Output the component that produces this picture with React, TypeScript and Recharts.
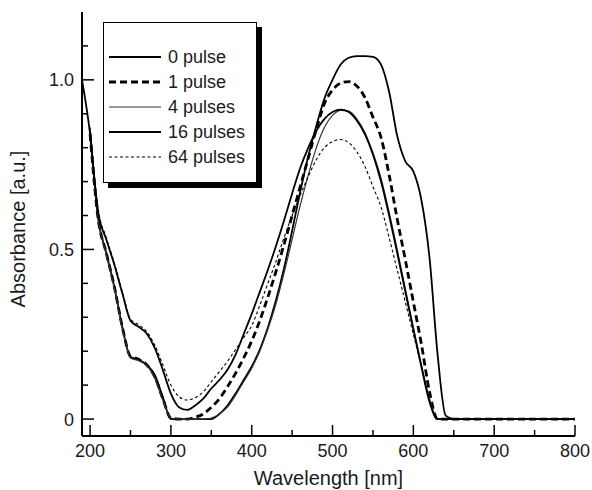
import React from 'react';
import { LineChart, Line, XAxis, YAxis, Legend } from 'recharts';

// wavelength grid [nm]
const wavelength = [
  190, 200, 210, 220, 230, 240, 250, 260, 270, 280, 290, 300, 310, 320, 330, 340, 350, 360, 370, 380,
  390, 400, 410, 420, 430, 440, 450, 460, 470, 480, 490, 500, 510, 520, 530, 540, 550, 560, 570, 580,
  590, 600, 610, 620, 630, 640, 650, 700, 750, 800,
];

// absorbance [a.u.] per number of pulses
const pulse0 = [
  1.0, 0.84, 0.59, 0.49, 0.39, 0.27, 0.183, 0.175, 0.16, 0.13, 0.065, 0, 0, 0, 0, 0, 0, 0.015, 0.04, 0.075,
  0.115, 0.155, 0.205, 0.27, 0.35, 0.445, 0.555, 0.67, 0.775, 0.865, 0.945, 1.0, 1.045, 1.065, 1.07, 1.07, 1.068, 1.045, 0.965, 0.835,
  0.76, 0.73, 0.645, 0.475, 0.19, 0.01, 0, 0, 0, 0,
];
const pulse1 = [
  null, 0.84, 0.59, 0.49, 0.39, 0.27, 0.185, 0.176, 0.16, 0.125, 0.06, 0.003, 0, 0, 0.005, 0.015, 0.035, 0.06, 0.095, 0.135,
  0.18, 0.23, 0.29, 0.36, 0.435, 0.515, 0.6, 0.685, 0.77, 0.855, 0.93, 0.97, 0.99, 0.995, 0.982, 0.948, 0.89, 0.83, 0.72, 0.59,
  0.47, 0.345, 0.22, 0.08, 0, 0, 0, 0, 0, 0,
];
const pulse4 = [
  null, 0.84, 0.59, 0.485, 0.385, 0.265, 0.18, 0.172, 0.158, 0.12, 0.055, 0.003, 0, 0, 0, 0, 0.003, 0.015, 0.035, 0.07,
  0.11, 0.15, 0.2, 0.265, 0.34, 0.43, 0.53, 0.63, 0.72, 0.8, 0.86, 0.895, 0.91, 0.908, 0.885, 0.845, 0.785, 0.71, 0.61, 0.5,
  0.385, 0.27, 0.16, 0.06, 0, 0, 0, 0, 0, 0,
];
const pulse16 = [
  null, 0.85, 0.61, 0.53, 0.455, 0.37, 0.29, 0.272, 0.252, 0.21, 0.145, 0.075, 0.035, 0.027, 0.04, 0.06, 0.09, 0.115, 0.145, 0.19,
  0.25, 0.31, 0.375, 0.44, 0.51, 0.585, 0.665, 0.74, 0.8, 0.85, 0.885, 0.905, 0.912, 0.905, 0.88, 0.84, 0.78, 0.7, 0.6, 0.49,
  0.376, 0.264, 0.153, 0.05, 0, 0, 0, 0, 0, 0,
];
const pulse64 = [
  null, 0.86, 0.62, 0.535, 0.46, 0.375, 0.295, 0.278, 0.258, 0.218, 0.16, 0.1, 0.066, 0.056, 0.063, 0.08, 0.11, 0.14, 0.17, 0.205,
  0.24, 0.275, 0.335, 0.4, 0.465, 0.535, 0.6, 0.66, 0.715, 0.765, 0.8, 0.818, 0.824, 0.815, 0.788, 0.745, 0.685, 0.625, 0.535, 0.44,
  0.345, 0.25, 0.155, 0.055, 0, 0, 0, 0, 0, 0,
];

const xTicks = [200, 250, 300, 350, 400, 450, 500, 550, 600, 650, 700, 750, 800];
const yTicks = [0, 0.1, 0.2, 0.3, 0.4, 0.5, 0.6, 0.7, 0.8, 0.9, 1.0, 1.1];
const yMajor = [0, 0.5, 1.0];

const series = [
  { key: 'p0', name: '0 pulse', width: 1.8, dash: undefined, color: '#000' },
  { key: 'p1', name: '1 pulse', width: 2.8, dash: '7 4', color: '#000' },
  { key: 'p4', name: '4 pulses', width: 1.2, dash: undefined, color: '#333' },
  { key: 'p16', name: '16 pulses', width: 1.8, dash: undefined, color: '#000' },
  { key: 'p64', name: '64 pulses', width: 1.1, dash: '3 2.5', color: '#000' },
];

const data = wavelength.map((w, i) => ({
  w,
  p0: pulse0[i],
  p1: pulse1[i],
  p4: pulse4[i],
  p16: pulse16[i],
  p64: pulse64[i],
}));

const FONT = '"Liberation Sans", Arial, Helvetica, sans-serif';

function XTick(props: any) {
  const { x, y, payload, side } = props;
  const v = payload.value;
  const major = v % 100 === 0;
  const len = major ? 11 : 6;
  const dir = side === 'bottom' ? -1 : 1;
  return (
    <g>
      <line x1={x} x2={x} y1={y} y2={y + dir * len} stroke="#000" strokeWidth={1.5} />
      {side === 'bottom' && major && (
        <text x={x} y={y + 21} textAnchor="middle" fontSize={18} fontFamily={FONT} fill="#1a1a1a">
          {v}
        </text>
      )}
    </g>
  );
}

function YTick(props: any) {
  const { x, y, payload, side } = props;
  const v = payload.value;
  const major = yMajor.some((m) => Math.abs(m - v) < 1e-6);
  const len = major ? 12 : 6;
  const dir = side === 'left' ? 1 : -1;
  return (
    <g>
      <line x1={x} x2={x + dir * len} y1={y} y2={y} stroke="#000" strokeWidth={1.5} />
      {side === 'left' && major && (
        <text x={x - 8} y={y + 6.5} textAnchor="end" fontSize={18} fontFamily={FONT} fill="#1a1a1a">
          {v === 0 ? '0' : v.toFixed(1)}
        </text>
      )}
    </g>
  );
}

function LegendBox() {
  return (
    <div style={{ position: 'relative', width: 154, height: 161 }}>
      <div style={{ position: 'absolute', left: 5, top: 5, width: 154, height: 161, background: '#000' }} />
      <div
        style={{
          position: 'absolute',
          left: 0,
          top: 0,
          width: 152,
          height: 159,
          background: '#fff',
          border: '1px solid #000',
        }}
      >
        {series.map((s, i) => (
          <div key={s.key} style={{ position: 'absolute', left: 5, top: 23 + i * 25, height: 22, display: 'flex', alignItems: 'center' }}>
            <svg width={52} height={8}>
              <line x1={0} x2={52} y1={4} y2={4} stroke={s.color} strokeWidth={s.width} strokeDasharray={s.dash} />
            </svg>
            <span style={{ marginLeft: 7, fontSize: 18, fontFamily: FONT, color: '#1a1a1a', lineHeight: '22px' }}>{s.name}</span>
          </div>
        ))}
      </div>
    </div>
  );
}

export default function App() {
  return (
    <div style={{ position: 'relative', width: 592, height: 490, background: '#fff' }}>
      <style>{'body{margin:0;background:#fff}'}</style>
      <LineChart width={592} height={490} data={data} margin={{ top: 12, right: 17, left: 0, bottom: 0 }}>
        <XAxis
          dataKey="w"
          type="number"
          domain={[190, 800]}
          allowDataOverflow
          ticks={xTicks}
          interval={0}
          height={54}
          tickSize={0}
          tickMargin={0}
          tickLine={false}
          axisLine={{ stroke: '#000', strokeWidth: 2 }}
          tick={(p: any) => <XTick {...p} side="bottom" />}
          label={{ value: 'Wavelength [nm]', position: 'insideBottom', offset: 5, fontSize: 20, fontFamily: FONT, fill: '#1a1a1a' }}
        />
        <XAxis
          xAxisId="top"
          orientation="top"
          dataKey="w"
          type="number"
          domain={[190, 800]}
          allowDataOverflow
          ticks={xTicks}
          interval={0}
          height={0}
          tickSize={0}
          tickMargin={0}
          tickLine={false}
          axisLine={{ stroke: '#000', strokeWidth: 2 }}
          tick={(p: any) => <XTick {...p} side="top" />}
        />
        <YAxis
          type="number"
          domain={[-0.05, 1.2]}
          allowDataOverflow
          ticks={yTicks}
          interval={0}
          width={82}
          tickSize={0}
          tickMargin={0}
          tickLine={false}
          axisLine={{ stroke: '#000', strokeWidth: 2 }}
          tick={(p: any) => <YTick {...p} side="left" />}
          label={{
            value: 'Absorbance [a.u.]',
            angle: -90,
            position: 'insideLeft',
            offset: 18,
            dy: 5,
            fontSize: 20,
            fontFamily: FONT,
            fill: '#1a1a1a',
            style: { textAnchor: 'middle' },
          }}
        />
        <YAxis
          yAxisId="right"
          orientation="right"
          type="number"
          domain={[-0.05, 1.2]}
          allowDataOverflow
          ticks={yTicks}
          interval={0}
          width={0}
          tickSize={0}
          tickMargin={0}
          tickLine={false}
          axisLine={{ stroke: '#000', strokeWidth: 2 }}
          tick={(p: any) => <YTick {...p} side="right" />}
        />
        <Legend
          layout="horizontal"
          verticalAlign="middle"
          align="center"
          content={() => <LegendBox />}
          wrapperStyle={{ position: 'absolute', left: 103, top: 22, width: 160, height: 168 }}
        />
        {series.map((s) => (
          <Line
            key={s.key}
            dataKey={s.key}
            name={s.name}
            type="monotone"
            stroke={s.color}
            strokeWidth={s.width}
            strokeDasharray={s.dash}
            dot={false}
            activeDot={false}
            isAnimationActive={false}
          />
        ))}
      </LineChart>
    </div>
  );
}
